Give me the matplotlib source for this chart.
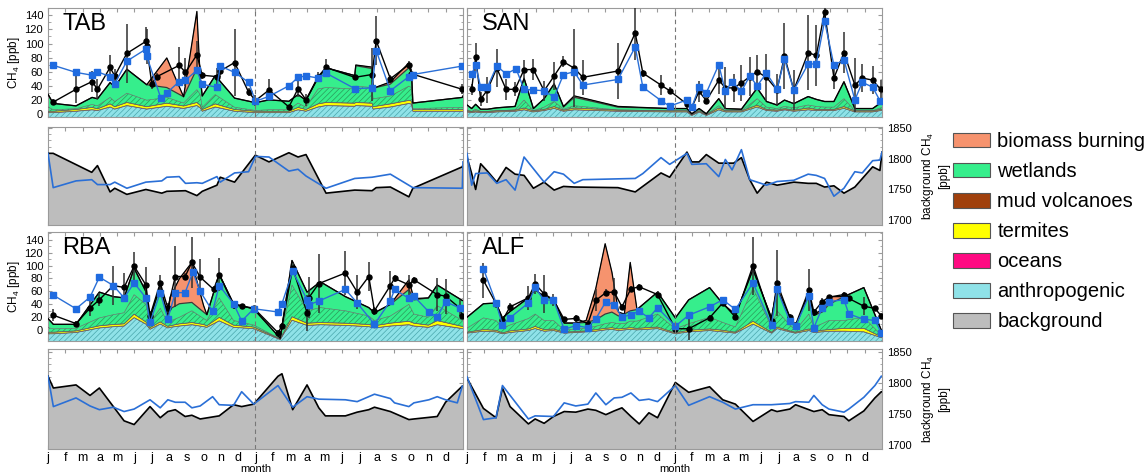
import numpy as np
import matplotlib
matplotlib.use("Agg")
import matplotlib.pyplot as plt
from matplotlib.patches import Patch
from matplotlib.ticker import MultipleLocator

plt.rcParams['font.family'] = ['Liberation Sans', 'DejaVu Sans']
plt.rcParams['mathtext.default'] = 'regular'
plt.rcParams['hatch.linewidth'] = 0.5

MONTH_LABELS = ['j', 'f', 'm', 'a', 'm', 'j', 'j', 'a', 's', 'o', 'n', 'd',
                'j', 'f', 'm', 'a', 'm', 'j', 'j', 'a', 's', 'o', 'n', 'd']
LEGEND_LABELS = ['biomass burning', 'wetlands', 'mud volcanoes', 'termites',
                 'oceans', 'anthropogenic', 'background']
SITES = ['TAB', 'SAN', 'RBA', 'ALF']

# ---------------- TAB ----------------
TAB_T = [0, 0.3, 1.62, 2.55, 2.86, 3.59, 3.86, 4.56, 5.71, 6.87, 7.84, 8.61, 8.80, 8.92, 9.67, 10.79,
         12.0, 12.78, 13.93, 14.46, 14.92, 15.62, 16.08, 17.74, 17.80, 18.74, 18.80, 19.8, 20.87,
         21.02, 21.10, 23.96, 24]
TAB_ANTH = [6, 6, 8, 10, 9, 14, 11, 16, 11, 15, 12, 16, 13, 8, 14, 8, 6, 6, 6, 10, 8, 14, 16, 15, 16,
            15, 11, 14, 19, 18, 8, 8, 8]
TAB_OCEANS = 0.4
TAB_TERM = [1.5, 1.5, 2, 3, 2, 4, 3, 4, 3, 4, 3, 4, 3, 2, 4, 2, 1.5, 1.5, 1.5, 3, 2, 4, 4, 4, 4, 4, 3,
            4, 4, 4, 2, 2, 2]
TAB_MUD = 0.4
TAB_WET_H = [6, 2, 1, 4, 4, 9, 7, 13, 9, 8, 4, 18, 15, 3, 13, 3, 1, 2, 2, 6, 3, 21, 21, 20, 23, 22,
             11, 11, 20, 19, 1, 3, 3]
TAB_WET_O = [18, 9, 4, 10, 10, 21, 21, 34, 22, 14, 9, 30, 25, 16, 27, 13, 11, 14, 12, 12, 10, 16, 28,
             19, 29, 27, 15, 17, 26, 22, 8, 14, 16]
TAB_BB = [0, 0, 0, 0, 0, 0, 0, 0, 0, 42, 0, 81, 0, 0, 0, 0, 0, 0, 0, 0, 0, 0, 0, 0, 1, 2, 0, 3, 7, 2,
          0, 0, 0]
TAB_OBS_T = [0.31, 1.62, 2.55, 2.86, 3.59, 3.86, 4.56, 5.66, 5.71, 6.0, 6.3, 7.59, 7.95, 8.61, 8.92,
             9.77, 9.96, 10.79, 11.6, 12.0, 12.78, 13.93, 14.46, 14.92, 15.62, 16.08, 17.74, 18.74,
             18.98, 19.8, 20.87, 21.02, 23.96]
TAB_OBS = [17, 35, 46, 35, 66, 54, 86, 103, 96, 43, 53, 69, 59, 84, 55, 53, 61, 73, 31, 19, 34, 10,
           36, 20, 53, 66, 52, 56, 104, 50, 70, 57, 35]
TAB_ERR = [4, 19, 15, 14, 17, 10, 42, 20, 25, 8, 5, 26, 20, 19, 5, 12, 8, 47, 6, 8, 15, 3, 12, 9, 6,
           12, 4, 37, 35, 6, 5, 6, 7]
TAB_MOD_T = [0.31, 1.62, 2.55, 2.86, 3.59, 3.86, 4.56, 5.66, 5.71, 6.53, 6.87, 7.59, 7.95, 8.61,
             8.92, 9.77, 9.96, 10.79, 11.6, 12.0, 12.78, 13.93, 14.46, 14.92, 15.62, 16.08, 17.74,
             18.74, 18.98, 19.8, 20.87, 21.1, 23.96]
TAB_MOD = [69, 59, 55, 60, 53, 43, 75, 92, 82, 22, 30, 46, 48, 62, 42, 38, 68, 59, 45, 18, 25, 40,
           52, 54, 51, 58, 36, 37, 90, 33, 53, 56, 68]
TAB_BG_T = [0, 0.3, 2.53, 2.86, 3.59, 3.86, 4.56, 5.66, 6.58, 6.87, 7.95, 8.61, 8.92, 9.77, 9.96,
            10.79, 11.99, 12.78, 13.93, 14.46, 14.92, 16.08, 17.74, 18.74, 18.98, 19.8, 20.87, 21.1,
            23.96, 24]
TAB_BG = [1809, 1809, 1778, 1789, 1746, 1752, 1742, 1750, 1744, 1747, 1748, 1740, 1747, 1757, 1770,
          1762, 1806, 1795, 1810, 1803, 1807, 1744, 1749, 1748, 1753, 1754, 1738, 1752, 1787, 1787]
TAB_BGM_T = [0, 0.3, 1.62, 2.53, 2.86, 3.59, 3.86, 4.56, 5.66, 6.58, 6.87, 7.59, 7.95, 8.61, 8.92,
             9.77, 9.96, 10.79, 11.6, 12.0, 12.78, 13.93, 14.46, 14.92, 16.08, 17.74, 18.74, 19.8,
             21.1, 23.96, 24]
TAB_BGM = [1809, 1753, 1764, 1766, 1758, 1758, 1762, 1752, 1762, 1764, 1770, 1771, 1760, 1761, 1760,
           1771, 1762, 1777, 1779, 1804, 1803, 1780, 1783, 1772, 1752, 1768, 1770, 1775, 1753, 1752,
           1795]

# ---------------- SAN ----------------
SAN_T = [0, 0.27, 0.5, 0.79, 1.18, 1.72, 2.78, 3.3, 3.84, 4.46, 5.04, 5.58, 6.2, 8.73, 11.72, 12.72,
         13.0, 13.42, 13.84, 14.56, 14.94, 15.87, 16.78, 17.32, 17.93, 18.36, 18.9, 19.73, 20.2,
         20.68, 21.22, 21.8, 22.43, 23.46, 23.92, 24]
SAN_ANTH = [7, 6, 7, 6, 6, 7, 8, 10, 7, 9, 12, 8, 10, 8, 7, 7, 2, 7, 2, 10, 7, 7, 14, 9, 8, 10, 8,
            10, 9, 9, 9, 12, 7, 7, 9, 9]
SAN_OCEANS = 0.4
SAN_TERM = [1, 1, 1, 1, 1, 1, 1, 2, 1, 1, 2, 1, 2, 1, 1, 1, 0.5, 1, 0.5, 2, 1, 1, 2, 1, 1, 1, 1, 2,
            1, 1, 1, 2, 1, 1, 1, 1]
SAN_MUD = 0.6
SAN_WET_H = [1, 0, 2, 0, 0, 0, 0, 11, 0, 3, 7, 1, 3, 0, 0, 0, 0, 0, 0, 3, 0, 0, 9, 3, 2, 3, 3, 4, 4,
             3, 3, 11, 0, 0, 2, 2]
SAN_WET_O = [7, 4, 7, 3, 3, 4, 5, 31, 3, 12, 25, 3, 12, 4, 3, 3, 1, 3, 1, 10, 3, 2, 15, 8, 5, 9, 6,
             12, 10, 8, 8, 24, 3, 3, 7, 7]
SAN_BB = [0, 0, 0, 0, 0, 0, 0, 0, 0, 0, 0, 1, 2, 1, 0, 0, 0, 0, 0, 0, 0, 0, 0, 0, 0, 0, 0, 0, 0, 0,
          0, 0, 0, 0, 0, 0]
SAN_OBS_T = [0.27, 0.5, 0.79, 1.18, 1.72, 2.26, 2.78, 3.3, 3.84, 4.46, 5.04, 5.58, 6.2, 6.7, 8.73,
             9.73, 10.17, 11.22, 11.72, 12.72, 13.0, 13.42, 13.84, 14.56, 14.94, 15.42, 15.87,
             16.35, 16.78, 17.32, 17.93, 18.36, 18.9, 19.73, 20.2, 20.68, 21.22, 21.8, 22.43, 22.86,
             23.46, 23.92]
SAN_OBS = [35, 81, 21, 34, 65, 35, 35, 63, 63, 33, 54, 74, 65, 52, 61, 115, 58, 41, 33, 14, 9.5, 32,
           19, 48, 37, 37, 44, 53, 60, 52, 34, 82, 34, 87, 83, 145, 51, 87, 41, 51, 48, 35]
SAN_ERR = [8, 20, 10, 18, 27, 15, 10, 14, 15, 14, 20, 8, 55, 25, 40, 38, 5, 14, 5, 5, 5, 15, 5, 20,
           30, 20, 25, 28, 23, 33, 23, 47, 28, 53, 43, 10, 16, 29, 38, 20, 20, 13]
SAN_MOD_T = [0.27, 0.5, 0.79, 1.18, 1.72, 2.26, 2.84, 3.3, 3.84, 4.46, 5.04, 5.58, 6.2, 6.7, 8.73,
             9.73, 10.17, 11.22, 11.72, 12.72, 13.0, 13.42, 13.84, 14.56, 14.94, 15.33, 15.87,
             16.35, 16.78, 17.32, 17.93, 18.36, 18.9, 19.73, 20.2, 20.68, 21.22, 21.8, 22.43, 22.86,
             23.46, 23.88]
SAN_MOD = [57, 69, 38, 38, 68, 57, 64, 35, 34, 33, 24, 56, 60, 41, 49, 95, 38, 19, 11, 20, 9.5, 38,
           30, 70, 32, 46, 32, 54, 40, 58, 35, 78, 34, 71, 71, 132, 69, 77, 20, 45, 38, 19]
SAN_BG_T = [0, 0.27, 0.5, 0.79, 1.18, 1.72, 2.26, 2.78, 3.3, 3.84, 4.46, 5.04, 5.58, 6.2, 8.73,
            9.73, 11.22, 11.72, 12.72, 13.0, 13.42, 13.84, 14.56, 15.42, 15.87, 16.35, 16.78, 17.32,
            17.93, 18.9, 19.73, 20.2, 20.68, 21.22, 21.8, 22.43, 23.46, 23.88, 24]
SAN_BG = [1803, 1776, 1750, 1792, 1780, 1762, 1786, 1775, 1773, 1752, 1762, 1749, 1755, 1754, 1753,
          1746, 1777, 1770, 1811, 1795, 1795, 1807, 1793, 1793, 1802, 1766, 1744, 1762, 1757, 1762,
          1760, 1760, 1754, 1756, 1744, 1754, 1787, 1781, 1811]
SAN_BGM_T = [0, 0.27, 0.5, 1.18, 1.72, 2.26, 2.78, 3.3, 4.46, 5.04, 5.58, 6.2, 6.7, 9.73, 10.17,
             11.22, 11.72, 12.72, 13.0, 13.84, 14.56, 14.94, 15.33, 15.87, 16.35, 17.32, 17.93,
             18.9, 19.73, 20.2, 20.68, 21.22, 21.8, 22.43, 22.86, 23.46, 23.88, 24]
SAN_BGM = [1809, 1757, 1776, 1777, 1760, 1766, 1749, 1803, 1762, 1779, 1775, 1760, 1766, 1768, 1776,
           1802, 1791, 1809, 1791, 1792, 1771, 1799, 1782, 1815, 1766, 1757, 1763, 1765, 1775, 1773,
           1768, 1739, 1752, 1779, 1777, 1797, 1798, 1811]

# ---------------- RBA ----------------
RBA_T = [0, 0.31, 1.62, 2.97, 3.78, 4.4, 4.98, 5.66, 5.9, 6.49, 6.93, 7.06, 7.6, 8.32, 9.0, 9.19,
         9.9, 10.73, 11.89, 13.43, 14.11, 14.98, 15.75, 17.2, 18.55, 18.88, 19.8, 20.87, 21.16,
         22.0, 22.51, 23.96, 24]
RBA_ANTH = [11, 11, 13, 20, 22, 23, 36, 26, 18, 26, 20, 21, 23, 25, 22, 21, 31, 21, 19, 2, 32, 24,
            25, 24, 22, 20, 23, 25, 23, 21, 25, 19, 19]
RBA_OCEANS = 0.4
RBA_TERM = [2, 2, 2, 3, 3, 3, 5, 3, 2, 3, 2, 2, 3, 3, 3, 2, 5, 3, 2, 0.5, 5, 3, 3, 3, 3, 3, 4, 5, 4,
            3, 6, 3, 3]
RBA_MUD = 0.4
RBA_WET_H = [7, 5, 4, 12, 15, 17, 30, 27, 7, 21, 5, 7, 10, 18, 9, 8, 30, 7, 3, 0, 49, 19, 23, 19, 13,
             8, 11, 26, 14, 12, 23, 9, 9]
RBA_WET_O = [14, 7, 6, 40, 28, 23, 41, 20, 8, 34, 12, 19, 21, 13, 10, 9, 37, 26, 25, 1, 38, 29, 40,
             22, 13, 12, 18, 23, 22, 30, 32, 31, 31]
RBA_BB = [0, 0, 0, 0, 0, 0, 0, 0, 0, 0, 0, 18, 39, 62, 10, 0, 0, 0, 0, 0, 0, 0, 0, 0, 0, 0, 0, 15, 2,
          0, 0, 0, 0]
RBA_OBS_T = [0.31, 1.62, 2.43, 2.97, 3.78, 4.4, 4.98, 5.66, 5.9, 6.49, 6.93, 7.36, 7.93, 8.32, 8.8,
             9.58, 9.9, 10.73, 11.2, 11.9, 13.3, 13.53, 14.15, 14.98, 15.08, 15.66, 17.2, 17.88,
             18.55, 18.88, 19.8, 20.04, 20.87, 21.16, 22.51, 22.99, 23.82, 23.96]
RBA_OBS = [23, 10, 34, 47, 69, 66, 99, 70, 22, 73, 34, 83, 83, 105, 82, 63, 86, 39, 37, 34, -4, 6,
           96, 27, 50, 72, 88.5, 59, 83, 30, 69, 80, 70, 78, 55, 52.5, 34, 22]
RBA_ERR = [9, 4, 13, 10, 30, 23, 22, 27, 8, 13, 8, 48, 5, 40, 28, 6, 25, 6, 4, 4, 4, 5, 8, 28, 32,
           46, 34, 27, 23, 6, 23, 6, 15, 5, 25, 27, 12, 4]
RBA_MOD_T = [0.31, 1.62, 2.43, 2.97, 3.78, 4.4, 4.98, 5.66, 5.9, 6.49, 6.93, 7.36, 7.93, 8.38, 8.8,
             9.52, 9.9, 10.73, 11.2, 11.9, 13.3, 13.53, 14.15, 14.98, 15.08, 15.66, 17.2, 17.88,
             18.88, 19.8, 20.04, 20.87, 21.16, 22.03, 22.51, 22.99, 23.82]
RBA_MOD = [54, 33, 51, 82, 69, 50, 73, 50, 12, 58, 17.5, 58, 58, 90, 60, 29, 69, 41, 14, 33, 28, 41,
           91, 47, 39, 45, 63, 42, 9, 45, 63, 49, 52.5, 28, 20, 44, 34]
RBA_BG_T = [0, 0.31, 1.62, 2.43, 2.97, 4.4, 4.98, 5.9, 6.49, 6.93, 7.36, 7.93, 8.32, 8.8, 9.9, 10.73,
            11.2, 11.9, 13.3, 13.53, 14.15, 14.98, 15.66, 16.04, 17.2, 17.88, 18.55, 18.88, 19.8,
            20.87, 21.16, 22.51, 22.99, 23.96, 24]
RBA_BG = [1811, 1792, 1797, 1780, 1792, 1739, 1733, 1762, 1744, 1754, 1757, 1746, 1748, 1742, 1747,
          1765, 1762, 1766, 1811, 1815, 1757, 1797, 1760, 1747, 1747, 1753, 1757, 1761, 1754, 1741,
          1742, 1746, 1769, 1795, 1795]
RBA_BGM_T = [0, 0.31, 1.62, 2.43, 2.97, 3.78, 4.4, 4.98, 5.9, 6.49, 6.93, 7.36, 7.93, 8.32, 8.8,
             9.52, 9.9, 10.73, 11.2, 11.9, 13.3, 14.15, 14.98, 15.66, 17.2, 17.88, 18.88, 19.8,
             20.04, 20.87, 21.16, 22.03, 22.51, 22.99, 23.67, 23.96]
RBA_BGM = [1811, 1762, 1776, 1763, 1757, 1761, 1754, 1758, 1773, 1760, 1773, 1769, 1769, 1760, 1763,
           1778, 1765, 1764, 1786, 1766, 1796, 1761, 1778, 1774, 1773, 1770, 1782, 1775, 1768, 1762,
           1768, 1773, 1778, 1773, 1768, 1795]

# ---------------- ALF ----------------
ALF_T = [0, 0.95, 1.68, 2.05, 2.49, 3.55, 3.94, 4.46, 5.0, 5.62, 6.29, 6.89, 7.45, 7.99, 8.38, 8.76,
         9.1, 9.44, 9.83, 11.02, 12.05, 12.82, 14.03, 14.79, 15.52, 16.54, 17.61, 17.93, 18.67,
         19.0, 19.77, 20.06, 20.54, 20.93, 21.8, 22.95, 23.96, 24.0]
ALF_ANTH = [12, 15, 14, 11, 13, 16, 19, 15, 16, 12, 13, 14, 15, 17, 18, 16, 17, 18, 17, 19, 11, 14,
            16, 14, 12, 26, 12, 19, 14, 12, 16, 13, 14, 15, 15, 14, 5, 5]
ALF_OCEANS = 0.4
ALF_TERM = [1, 2, 2, 1, 2, 2, 3, 2, 2, 1, 1, 1, 2, 2, 2, 2, 2, 2, 2, 2, 1, 2, 2, 2, 1, 4, 1, 2, 1, 1,
            2, 1, 2, 2, 4, 5, 1, 1]
ALF_MUD = 0.4
ALF_WET_H = [6, 18, 15, 7, 9, 16, 19, 14, 13, 3, 4, 4, 5, 7, 8, 8, 7, 10, 11, 20, 6, 10, 18, 12, 8,
             51, 8, 25, 9, 3, 23, 7, 10, 14, 12, 17, 2, 2]
ALF_WET_O = [17, 22, 27, 16, 21, 32, 38, 37, 34, 11, 9, 9, 10, 15, 16, 12, 15, 16, 18, 34, 17, 37,
             46, 29, 19, 29, 14, 35, 12, 6, 33, 18, 18, 25, 37, 46, 8, 8]
ALF_BB = [0, 0, 0, 0, 0, 0, 0, 0, 0, 0, 0, 3, 49, 109, 62, 6, 0, 75, 0, 0, 0, 0, 0, 0, 0, 0, 0, 0, 0,
          0, 0, 0, 5, 12, 0, 0, 0, 0]
ALF_OBS_T = [0.95, 1.68, 2.05, 2.49, 3.55, 3.94, 4.46, 5.0, 5.62, 6.29, 6.99, 7.45, 8.03, 8.51, 8.96,
             9.48, 9.96, 11.02, 12.05, 12.82, 14.03, 14.79, 15.52, 16.54, 17.61, 17.93, 18.67, 19.0,
             19.77, 20.06, 20.54, 20.93, 21.8, 22.08, 22.95, 23.59, 23.96]
ALF_OBS = [77, 41, 15, 36, 50, 71.5, 56, 47, 16.5, 18, 10, 46, 58, 59, 36, 64, 67, 55, 2, 2, 19, 42,
           20, 100, 14, 73, 20, 8, 62, 28, 44, 51, 55, 49, 37, 33.5, 22]
ALF_ERR = [27, 5, 6, 6, 19, 15, 30, 9, 4, 5, 5, 17, 5, 22, 5, 5, 4, 5, 5, 17, 4, 5, 5, 45, 4, 51, 5,
           4, 32, 5, 5, 4, 4, 4, 14, 4, 4]
ALF_MOD_T = [0.95, 1.68, 2.05, 2.49, 3.55, 3.94, 4.46, 5.0, 5.62, 6.29, 6.99, 7.45, 8.03, 8.51, 8.96,
             9.48, 9.96, 10.52, 11.02, 12.05, 12.82, 14.03, 14.79, 15.52, 16.54, 17.61, 17.93,
             18.67, 19.0, 19.77, 20.06, 20.54, 20.93, 21.8, 22.08, 22.95, 23.59, 23.96]
ALF_MOD = [95, 42, 8, 19, 42, 66, 46, 47, 1, 7, 3.6, 17.5, 44, 39, 20, 24, 29, 19, 34.5, 6, 23, 36,
           47, 32, 73, 8, 63, 14, 6, 52.5, 3.6, 34.5, 44, 47, 25, 16.5, 15, -4]
ALF_BG_T = [0, 0.95, 1.68, 2.05, 2.49, 3.55, 3.94, 4.46, 5.0, 5.62, 6.29, 6.99, 7.45, 8.03, 8.51,
            8.96, 9.48, 9.96, 10.52, 11.02, 12.05, 12.82, 14.03, 14.79, 15.52, 16.54, 17.61, 17.93,
            18.67, 19.0, 19.77, 20.06, 20.54, 20.93, 21.8, 22.08, 22.95, 23.59, 23.96, 24]
ALF_BG = [1808, 1759, 1744, 1792, 1762, 1734, 1742, 1735, 1746, 1754, 1753, 1758, 1756, 1749, 1755,
          1760, 1746, 1734, 1752, 1744, 1801, 1785, 1794, 1773, 1766, 1738, 1757, 1754, 1758, 1765,
          1757, 1754, 1757, 1749, 1746, 1739, 1755, 1776, 1786, 1786]
ALF_BGM_T = [0, 0.95, 1.68, 2.05, 3.55, 3.94, 5.0, 5.62, 6.29, 6.99, 7.45, 8.03, 8.51, 8.96, 9.48,
             9.96, 10.52, 11.02, 12.05, 12.82, 14.03, 14.79, 15.52, 16.54, 17.61, 18.67, 19.0,
             19.77, 20.06, 20.54, 20.93, 21.8, 22.08, 22.95, 23.59, 23.96]
ALF_BGM = [1810, 1741, 1744, 1796, 1742, 1747, 1746, 1768, 1763, 1766, 1784, 1765, 1776, 1777, 1784,
           1772, 1774, 1770, 1796, 1764, 1778, 1769, 1758, 1765, 1765, 1767, 1770, 1769, 1780, 1765,
           1758, 1753, 1758, 1777, 1796, 1811]

# ---------------- styling ----------------
C_BB = '#f6936e'
C_WET = '#36ee8c'
C_MUD = '#a0400c'
C_TERM = '#ffff00'
C_OCEAN = '#ff0a82'
C_ANTH = '#8fe2e8'
C_BG = '#bdbdbd'
C_BLUE = '#2a6fd6'
SPINE = '#9a9a9a'

FIG_W, FIG_H = 1148, 476
fig = plt.figure(figsize=(FIG_W / 100, FIG_H / 100), dpi=100)


def fax(x0, y0, x1, y1):
    return fig.add_axes([x0 / FIG_W, 1 - y1 / FIG_H, (x1 - x0) / FIG_W, (y1 - y0) / FIG_H])


def style(ax):
    for s in ax.spines.values():
        s.set_color(SPINE)
        s.set_linewidth(0.8)
    ax.set_xlim(0, 24)
    ax.set_xticks(np.arange(0, 24))
    ax.tick_params(axis='both', which='both', direction='in', top=True, right=True,
                   color=SPINE, labelsize=8)
    ax.tick_params(which='major', length=3)
    ax.tick_params(which='minor', length=1.8)
    ax.axvline(12, color='#777777', ls=(0, (4, 3)), lw=0.8, zorder=6)


def draw_ch4(ax, name, t, anth, oceans, term, mud, wet_h, wet_o, bb,
             obs_t, obs, err, mod_t, mod, ylim, left):
    style(ax)
    ax.set_ylim(*ylim)
    base = ylim[0]
    t = np.asarray(t, float)
    comps = [(anth, C_ANTH, '//////', '#4aa6ad'),
             (oceans, C_OCEAN, None, None),
             (term, C_TERM, None, None),
             (mud, C_MUD, None, None),
             (wet_h, C_WET, '//////', '#2a9a5a'),
             (wet_o, C_WET, None, None),
             (bb, C_BB, None, None)]
    lower = np.zeros(len(t)) + base
    for i, (vals, fc, hatch, hc) in enumerate(comps):
        upper = lower + np.asarray(vals, float)
        ax.fill_between(t, lower, upper, facecolor=fc,
                        edgecolor=hc if hatch else 'none', hatch=hatch, linewidth=0, zorder=2)
        ax.plot(t, upper, color='#3a3a3a' if i == 5 else '#5a5a5a',
                lw=0.9 if i == 5 else 0.4, zorder=3)
        lower = upper
    ax.plot(t, lower, color='k', lw=0.9, zorder=3)
    ax.errorbar(obs_t, obs, yerr=err, fmt='none', ecolor='#303030', elinewidth=1.1,
                capsize=0, zorder=4)
    ax.plot(obs_t, obs, color='k', lw=1.0, marker='o', ms=3.6, zorder=5)
    ax.plot(mod_t, mod, color=C_BLUE, lw=1.0, marker='s', ms=4.5, mfc='#1f6be0',
            mec='#1f6be0', zorder=5)
    ax.set_yticks(np.arange(0, 141, 20))
    ax.yaxis.set_minor_locator(MultipleLocator(10))
    ax.tick_params(labelbottom=False)
    if left:
        ax.set_ylabel('CH$_4$ [ppb]', fontsize=8.5, labelpad=2)
    else:
        ax.tick_params(labelleft=False)
    ax.text(0.035, 0.95, name, transform=ax.transAxes, fontsize=17, va='top', ha='left',
            zorder=7)


def draw_bg(ax, bg_t, bg, bgm_t, bgm, ylim, left, bottom):
    style(ax)
    ax.set_ylim(*ylim)
    ax.fill_between(bg_t, ylim[0], bg, facecolor=C_BG, edgecolor='none', zorder=2)
    ax.plot(bg_t, bg, color='k', lw=1.2, zorder=3)
    ax.plot(bgm_t, bgm, color=C_BLUE, lw=1.2, zorder=4)
    ax.set_yticks([1700, 1750, 1800, 1850])
    ax.yaxis.set_minor_locator(MultipleLocator(10))
    ax.tick_params(labelleft=False)
    if not left:
        ax.tick_params(labelright=True)
        ax.yaxis.set_label_position('right')
        ax.set_ylabel('background CH$_4$\n[ppb]', fontsize=8.5, rotation=90, labelpad=6)
    if bottom:
        ax.set_xticklabels(MONTH_LABELS, fontsize=9)
        ax.tick_params(axis='x', pad=2)
        ax.set_xlabel('month', fontsize=8, labelpad=0)
    else:
        ax.tick_params(labelbottom=False)


XL = (48, 463)
XR = (467, 882)
ROWS = [(8, 117), (127, 225), (232, 341), (349, 449)]
YLIM_TOP = (-4.3, 150.4)
YLIM_MID = (-17, 152)
YLIM_BG1 = (1692, 1852)
YLIM_BG2 = (1693.5, 1855)

ax = fax(XL[0], ROWS[0][0], XL[1], ROWS[0][1])
draw_ch4(ax, SITES[0], TAB_T, TAB_ANTH, TAB_OCEANS, TAB_TERM, TAB_MUD, TAB_WET_H, TAB_WET_O, TAB_BB,
         TAB_OBS_T, TAB_OBS, TAB_ERR, TAB_MOD_T, TAB_MOD, YLIM_TOP, True)
ax = fax(XR[0], ROWS[0][0], XR[1], ROWS[0][1])
draw_ch4(ax, SITES[1], SAN_T, SAN_ANTH, SAN_OCEANS, SAN_TERM, SAN_MUD, SAN_WET_H, SAN_WET_O, SAN_BB,
         SAN_OBS_T, SAN_OBS, SAN_ERR, SAN_MOD_T, SAN_MOD, YLIM_TOP, False)
ax = fax(XL[0], ROWS[2][0], XL[1], ROWS[2][1])
draw_ch4(ax, SITES[2], RBA_T, RBA_ANTH, RBA_OCEANS, RBA_TERM, RBA_MUD, RBA_WET_H, RBA_WET_O, RBA_BB,
         RBA_OBS_T, RBA_OBS, RBA_ERR, RBA_MOD_T, RBA_MOD, YLIM_MID, True)
ax = fax(XR[0], ROWS[2][0], XR[1], ROWS[2][1])
draw_ch4(ax, SITES[3], ALF_T, ALF_ANTH, ALF_OCEANS, ALF_TERM, ALF_MUD, ALF_WET_H, ALF_WET_O, ALF_BB,
         ALF_OBS_T, ALF_OBS, ALF_ERR, ALF_MOD_T, ALF_MOD, YLIM_MID, False)

ax = fax(XL[0], ROWS[1][0], XL[1], ROWS[1][1])
draw_bg(ax, TAB_BG_T, TAB_BG, TAB_BGM_T, TAB_BGM, YLIM_BG1, True, False)
ax = fax(XR[0], ROWS[1][0], XR[1], ROWS[1][1])
draw_bg(ax, SAN_BG_T, SAN_BG, SAN_BGM_T, SAN_BGM, YLIM_BG1, False, False)
ax = fax(XL[0], ROWS[3][0], XL[1], ROWS[3][1])
draw_bg(ax, RBA_BG_T, RBA_BG, RBA_BGM_T, RBA_BGM, YLIM_BG2, True, True)
ax = fax(XR[0], ROWS[3][0], XR[1], ROWS[3][1])
draw_bg(ax, ALF_BG_T, ALF_BG, ALF_BGM_T, ALF_BGM, YLIM_BG2, False, True)

legend_colors = [C_BB, C_WET, C_MUD, C_TERM, C_OCEAN, C_ANTH, C_BG]
handles = [Patch(facecolor=c, edgecolor='#555555', linewidth=0.8, label=l)
           for c, l in zip(legend_colors, LEGEND_LABELS)]
fig.legend(handles=handles, loc='upper left', bbox_to_anchor=(953 / FIG_W, 1 - 132 / FIG_H),
           frameon=False, fontsize=14.5, borderpad=0, borderaxespad=0,
           handlelength=1.85, handleheight=0.75, handletextpad=0.35, labelspacing=0.55)

fig.savefig('out.png', dpi=100)
